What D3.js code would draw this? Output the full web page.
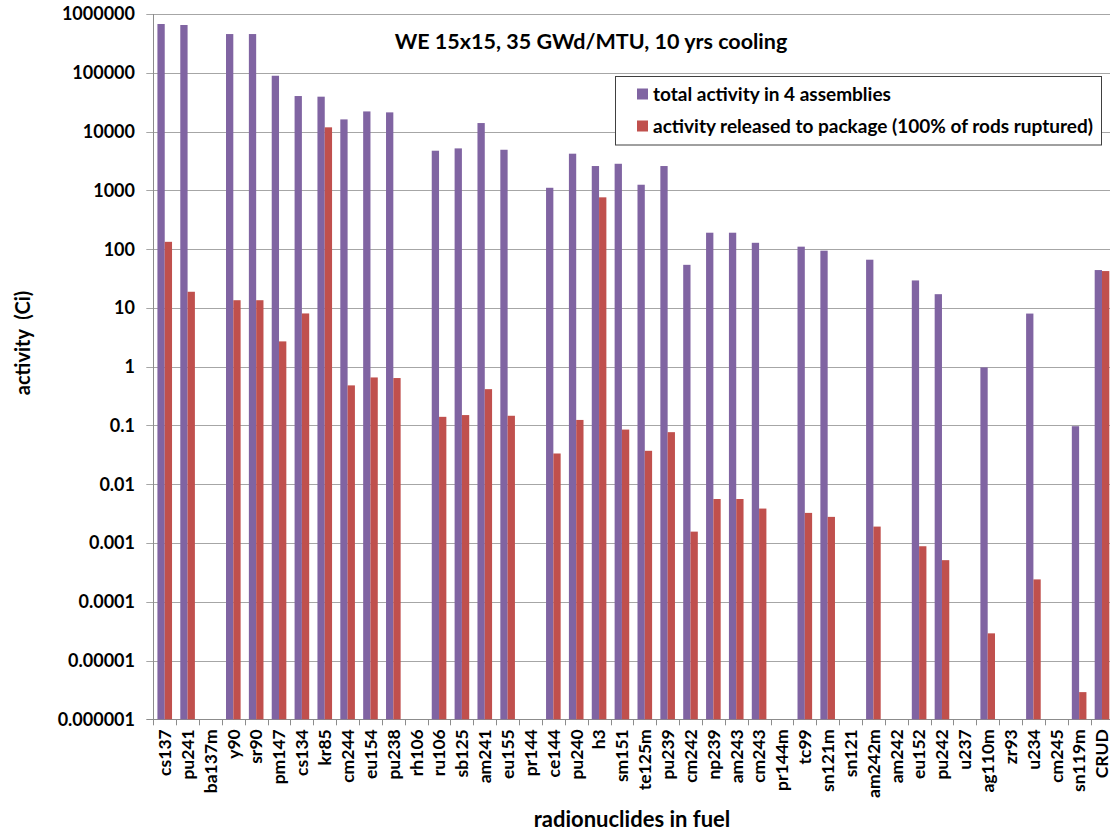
<!DOCTYPE html>
<html>
<head>
<meta charset="utf-8">
<script src="https://cdn.jsdelivr.net/npm/d3@7"></script>
<style>
  html, body { margin: 0; padding: 0; background: #fff; }
  svg { display: block; font-family: Lato, "Open Sans", sans-serif; font-weight: bold; }
  text { white-space: pre; }
</style>
</head>
<body>
<svg id="chart" width="1110" height="831"></svg>
<script>
const categories = ["cs137","pu241","ba137m","y90","sr90","pm147","cs134","kr85","cm244","eu154","pu238","rh106","ru106","sb125","am241","eu155","pr144","ce144","pu240","h3","sm151","te125m","pu239","cm242","np239","am243","cm243","pr144m","tc99","sn121m","sn121","am242m","am242","eu152","pu242","u237","ag110m","zr93","u234","cm245","sn119m","CRUD"];
const totalActivity = [676000,650000,null,456000,456000,89000,40200,39200,16100,22000,21200,null,4720,5170,13950,4900,null,1105,4200,2590,2830,1245,2590,54,190,190,128,null,110,94,null,66,null,29.3,17.1,null,0.97,null,8.0,null,0.097,44];
const releasedActivity = [133,18.8,null,13.5,13.5,2.69,8.04,11800,0.48,0.655,0.64,null,0.14,0.15,0.414,0.146,null,0.0333,0.124,760,0.085,0.037,0.0768,0.00156,0.0056,0.0056,0.00385,null,0.00325,0.00278,null,0.0019,null,0.00088,0.00051,null,0.000029,null,0.00024,null,0.0000029,42.3];
const seriesNames = ["total activity in 4 assemblies","activity released to package (100% of rods ruptured)"];
const seriesColors = ["#8064A2","#C0504D"];
const tickValues = [1e6,1e5,1e4,1e3,1e2,1e1,1,0.1,0.01,0.001,0.0001,0.00001,0.000001];
const tickLabels = ["1000000","100000","10000","1000","100","10","1","0.1","0.01","0.001","0.0001","0.00001","0.000001"];
const title = "WE 15x15, 35 GWd/MTU, 10 yrs cooling";
const xTitle = "radionuclides in fuel";
const yTitle = "activity  (Ci)";

(function () {
const svg = d3.select("#chart");
const plotLeft = 153.3, plotTop = 14, plotBottom = 719.3;
const step = 22.86;
const plotRight = plotLeft + step * categories.length;

const x = d3.scaleBand().domain(categories).range([plotLeft, plotRight]).paddingInner(0).paddingOuter(0);
const xSub = d3.scaleBand().domain([0,1]).range([0, x.bandwidth()]).paddingInner(0).paddingOuter(0.565);
const y = d3.scaleLog().domain([1e-6, 1e6]).range([plotBottom, plotTop]);

// gridlines
svg.append("g").selectAll("line").data(tickValues).join("line")
  .attr("x1", plotLeft - 7).attr("x2", 1110)
  .attr("y1", d => Math.round(y(d)) + 0.5).attr("y2", d => Math.round(y(d)) + 0.5)
  .attr("stroke", d => d === 1e-6 ? "#8c8c8c" : "#a6a6a6").attr("stroke-width", 1);

// y axis line
svg.append("line").attr("x1", Math.round(plotLeft) + 0.5).attr("x2", Math.round(plotLeft) + 0.5)
  .attr("y1", plotTop).attr("y2", plotBottom).attr("stroke", "#8c8c8c");

// x ticks (category boundaries)
svg.append("g").selectAll("line").data(categories.concat(["__end"])).join("line")
  .attr("x1", (d, i) => Math.round(plotLeft + i * step) + 0.5)
  .attr("x2", (d, i) => Math.round(plotLeft + i * step) + 0.5)
  .attr("y1", plotBottom).attr("y2", plotBottom + 6).attr("stroke", "#8c8c8c");

// bars
const series = [totalActivity, releasedActivity];
series.forEach((vals, si) => {
  svg.append("g").selectAll("rect")
    .data(categories.map((c, i) => ({c, v: vals[i]})).filter(d => d.v != null && d.v > 0))
    .join("rect")
    .attr("x", d => x(d.c) + xSub(si))
    .attr("width", xSub.bandwidth())
    .attr("y", d => y(d.v))
    .attr("height", d => plotBottom - y(d.v))
    .attr("fill", seriesColors[si]);
});

// y tick labels
svg.append("g").selectAll("text").data(tickValues).join("text")
  .attr("x", 135).attr("y", d => y(d))
  .attr("dy", "0.36em")
  .attr("text-anchor", "end")
  .attr("font-size", 18)
  .attr("fill", "#000")
  .text((d, i) => tickLabels[i]);

// x category labels
svg.append("g").selectAll("text").data(categories).join("text")
  .attr("transform", d => `translate(${x(d) + x.bandwidth() / 2},${plotBottom + 10}) rotate(-90)`)
  .attr("dy", "0.36em")
  .attr("text-anchor", "end")
  .attr("font-size", 17.5)
  .attr("fill", "#000")
  .text(d => d);

// title
svg.append("text").attr("x", 591).attr("y", 49).attr("text-anchor", "middle")
  .attr("font-size", 21.5).attr("fill", "#000").text(title);

// axis titles
svg.append("text").attr("x", 632).attr("y", 827).attr("text-anchor", "middle")
  .attr("font-size", 22).attr("fill", "#000").text(xTitle);
svg.append("text").attr("transform", "translate(30,343) rotate(-90)")
  .attr("text-anchor", "middle").attr("font-size", 20).attr("fill", "#000").text(yTitle);

// legend
const lg = svg.append("g");
lg.append("rect").attr("x", 615.5).attr("y", 76.5).attr("width", 486).attr("height", 68.5)
  .attr("fill", "#fff").attr("stroke", "#404040").attr("stroke-width", 1);
seriesNames.forEach((name, i) => {
  const cy = 94 + i * 32;
  lg.append("rect").attr("x", 637).attr("y", cy - 5.5).attr("width", 11).attr("height", 11)
    .attr("fill", seriesColors[i]);
  lg.append("text").attr("x", 653).attr("y", cy).attr("dy", "0.36em")
    .attr("font-size", 19).attr("fill", "#000").text(name);
});
})();
</script>
</body>
</html>
